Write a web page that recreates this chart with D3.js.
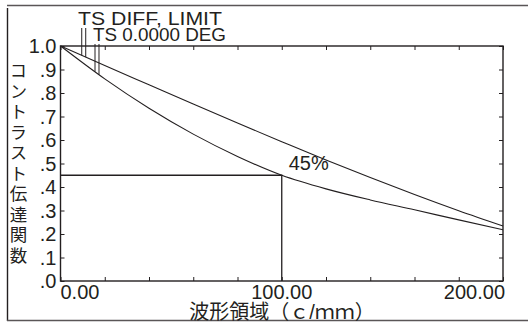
<!DOCTYPE html>
<html>
<head>
<meta charset="utf-8">
<script src="https://cdn.jsdelivr.net/npm/d3@7"></script>
<style>
  html, body { margin: 0; padding: 0; background: #fff; }
  svg { display: block; }
  text { font-family: "Liberation Sans", Arial, sans-serif; fill: #231f20; }
  .cjk { font-family: "Liberation Sans", "Noto Sans CJK JP", "Noto Sans CJK SC", sans-serif; }
</style>
</head>
<body>
<svg id="chart" width="528" height="322"></svg>
<script>
// Spatial frequency samples (c/mm)
const frequencies = [0, 20, 40, 60, 80, 100, 120, 140, 160, 180, 200];
// Diffraction-limited MTF (TS DIFF, LIMIT)
const diffLimit = [1.0, 0.917, 0.835, 0.753, 0.672, 0.593, 0.515, 0.44, 0.368, 0.299, 0.234];
// On-axis MTF (TS 0.0000 DEG)
const onAxis = [1.0, 0.86, 0.735, 0.625, 0.53, 0.45, 0.392, 0.345, 0.303, 0.26, 0.218];

const xTickValues = [0, 20, 40, 60, 80, 100, 120, 140, 160, 180, 200];
const xTickLabels = ["0.00", "100.00", "200.00"];
const yTickValues = [0, 0.1, 0.2, 0.3, 0.4, 0.5, 0.6, 0.7, 0.8, 0.9, 1.0];
const yTickLabels = [".0", ".1", ".2", ".3", ".4", ".5", ".6", ".7", ".8", ".9", "1.0"];

const markerFreq = 100;
const markerValue = 0.45;
const markerLabel = "45%";

const legendLabels = ["TS DIFF, LIMIT", "TS 0.0000 DEG"];
const xTitle = "波形領域（ｃ/ｍｍ）";
const yTitle = "コントラスト伝達関数";

const svg = d3.select("#chart");
const plotLeft = 60.5, plotRight = 503, plotTop = 46, plotBottom = 281;

const x = d3.scaleLinear().domain([0, 200]).range([plotLeft, plotRight]);
const y = d3.scaleLinear().domain([0, 1]).range([plotBottom, plotTop]);

// outer frame
svg.append("line").attr("x1", 7).attr("x2", 528).attr("y1", 5.5).attr("y2", 5.5)
  .attr("stroke", "#5a5657").attr("stroke-width", 1.6);
svg.append("line").attr("x1", 7.5).attr("x2", 7.5).attr("y1", 8).attr("y2", 321)
  .attr("stroke", "#231f20").attr("stroke-width", 1.4);
svg.append("line").attr("x1", 7).attr("x2", 528).attr("y1", 320.5).attr("y2", 320.5)
  .attr("stroke", "#5a5657").attr("stroke-width", 1.6);

// axes with inward ticks on all four sides
const tickLen = 4;
const axisStyle = g => {
  g.select(".domain").remove();
  g.selectAll(".tick line").attr("stroke", "#231f20").attr("stroke-width", 1);
  g.selectAll(".tick text").remove();
};
svg.append("g").attr("transform", `translate(0,${plotBottom})`)
  .call(d3.axisTop(x).tickValues(xTickValues).tickSize(tickLen)).call(axisStyle);
svg.append("g").attr("transform", `translate(0,${plotTop})`)
  .call(d3.axisBottom(x).tickValues(xTickValues).tickSize(tickLen)).call(axisStyle);
svg.append("g").attr("transform", `translate(${plotLeft},0)`)
  .call(d3.axisRight(y).tickValues(yTickValues).tickSize(tickLen)).call(axisStyle);
svg.append("g").attr("transform", `translate(${plotRight},0)`)
  .call(d3.axisLeft(y).tickValues(yTickValues).tickSize(tickLen)).call(axisStyle);

// plot border
svg.append("rect").attr("x", plotLeft).attr("y", plotTop)
  .attr("width", plotRight - plotLeft).attr("height", plotBottom - plotTop)
  .attr("fill", "none").attr("stroke", "#231f20").attr("stroke-width", 1.4);

// x tick labels: first left-aligned, middle centred, last right-aligned
const xLabelPos = [0, 100, 200];
const anchors = ["start", "middle", "end"];
svg.append("g").selectAll("text").data(xTickLabels).join("text")
  .attr("x", (d, i) => x(xLabelPos[i]) + (i === 2 ? 2 : 0))
  .attr("y", 298.5)
  .attr("text-anchor", (d, i) => anchors[i])
  .attr("font-size", 20)
  .text(d => d);

// y tick labels
svg.append("g").selectAll("text").data(yTickLabels).join("text")
  .attr("x", 56.5)
  .attr("y", (d, i) => y(yTickValues[i]))
  .attr("dy", "0.37em")
  .attr("text-anchor", "end")
  .attr("font-size", 20)
  .text(d => d);

// curves
const line = d3.line()
  .x((d, i) => x(frequencies[i]))
  .y(d => y(d))
  .curve(d3.curveMonotoneX);
[diffLimit, onAxis].forEach(series => {
  svg.append("path").datum(series).attr("d", line)
    .attr("fill", "none").attr("stroke", "#231f20").attr("stroke-width", 1.1);
});

// 45% marker
svg.append("path")
  .attr("d", `M${plotLeft},${y(markerValue)}H${x(markerFreq)}V${plotBottom}`)
  .attr("fill", "none").attr("stroke", "#231f20").attr("stroke-width", 1.3);
svg.append("text").attr("x", x(markerFreq) + 7).attr("y", 170)
  .attr("font-size", 20).text(markerLabel);

// legend labels with leader lines down to each curve
const interp = (series, f) => {
  const i = Math.min(Math.floor(f / 20), series.length - 2);
  const t = (f - frequencies[i]) / 20;
  return series[i] * (1 - t) + series[i + 1] * t;
};
svg.append("text").attr("x", 78).attr("y", 25).attr("font-size", 18.5)
  .attr("textLength", 144).attr("lengthAdjust", "spacingAndGlyphs").text(legendLabels[0]);
svg.append("text").attr("x", 93).attr("y", 41).attr("font-size", 18)
  .attr("textLength", 133).attr("lengthAdjust", "spacingAndGlyphs").text(legendLabels[1]);

const leaders = [
  { f: 9.6, series: diffLimit, y0: 28 },
  { f: 11.4, series: diffLimit, y0: 28 },
  { f: 15.6, series: onAxis, y0: 44 },
  { f: 17.4, series: onAxis, y0: 44 }
];
svg.append("g").selectAll("line").data(leaders).join("line")
  .attr("x1", d => x(d.f)).attr("x2", d => x(d.f))
  .attr("y1", d => d.y0).attr("y2", d => y(interp(d.series, d.f)))
  .attr("stroke", "#231f20").attr("stroke-width", 1);

// axis titles
svg.append("text").attr("class", "cjk")
  .attr("x", 282).attr("y", 318.5)
  .attr("text-anchor", "middle").attr("font-size", 20)
  .text(xTitle);

svg.append("text").attr("class", "cjk")
  .attr("x", 17).attr("y", 62)
  .attr("font-size", 17.5)
  .style("writing-mode", "vertical-rl")
  .style("text-orientation", "upright")
  .style("letter-spacing", "3px")
  .text(yTitle);
</script>
</body>
</html>
